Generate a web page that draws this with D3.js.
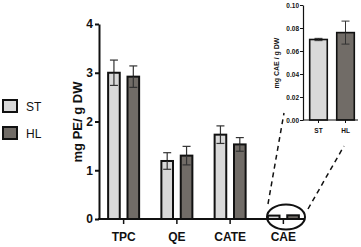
<!DOCTYPE html>
<html><head><meta charset="utf-8">
<script src="https://cdn.jsdelivr.net/npm/d3@7/dist/d3.min.js"></script>
<style>body{margin:0;background:#fff}svg{display:block}</style>
</head><body>
<svg id="c" width="361" height="247"></svg>
<script>
const categories = ["TPC","QE","CATE","CAE"];
const series = ["ST","HL"];
const stValues = [3.00, 1.19, 1.73, 0.070];
const stErrors = [0.26, 0.17, 0.18, 0.001];
const hlValues = [2.92, 1.30, 1.53, 0.076];
const hlErrors = [0.22, 0.19, 0.14, 0.010];
const mainTicks = [0,1,2,3,4];
const insetTicks = [0,0.02,0.04,0.06,0.08,0.10];
const colors = {ST:"#d9d9d9", HL:"#716c67"};

const svg = d3.select("#c");
const font = "'Liberation Sans', Arial, sans-serif";

// main chart
const x0 = d3.scaleBand().domain(categories).range([97, 310]).paddingInner(0).paddingOuter(0);
const x1 = d3.scaleBand().domain(series).range([-15.5, 15.5]).paddingInner(0.4).paddingOuter(0);
const y = d3.scaleLinear().domain([0,4]).range([219, 24]);

const data = categories.map((c,i)=>({c, vals:[
  {s:"ST", v:stValues[i], e:stErrors[i]},
  {s:"HL", v:hlValues[i], e:hlErrors[i]}]}));

const g = svg.append("g");
data.forEach(d=>{
  const cx = x0(d.c)+x0.bandwidth()/2;
  d.vals.forEach(b=>{
    const bx = cx + x1(b.s);
    const bw = x1.bandwidth();
    const mx = bx + bw/2;
    if (d.c !== "CAE") {
      g.append("line").attr("x1",mx).attr("x2",mx).attr("y1",y(b.v+b.e)).attr("y2",y(b.v)).attr("stroke","#333").attr("stroke-width",1.2);
      g.append("line").attr("x1",mx-4).attr("x2",mx+4).attr("y1",y(b.v+b.e)).attr("y2",y(b.v+b.e)).attr("stroke","#333").attr("stroke-width",1.2);
    }
    g.append("rect").attr("x",bx).attr("width",bw).attr("y",y(b.v)).attr("height",Math.max(y(0)-y(b.v),1.5))
      .attr("fill",colors[b.s]).attr("stroke","#111").attr("stroke-width",2);
    if (d.c !== "CAE") {
      g.append("line").attr("x1",mx).attr("x2",mx).attr("y1",y(b.v)).attr("y2",y(b.v-b.e)).attr("stroke","#333").attr("stroke-width",1.2);
      g.append("line").attr("x1",mx-4).attr("x2",mx+4).attr("y1",y(b.v-b.e)).attr("y2",y(b.v-b.e)).attr("stroke","#333").attr("stroke-width",1.2);
    }
  });
});

// axes
const yAxis = svg.append("g").attr("transform","translate(99,0)")
  .call(d3.axisLeft(y).tickValues(mainTicks).tickFormat(d3.format("d")).tickSize(4).tickSizeOuter(0));
yAxis.select(".domain").attr("stroke","#111").attr("stroke-width",2);
yAxis.selectAll(".tick line").attr("stroke","#111").attr("stroke-width",2);
yAxis.selectAll(".tick text").attr("font-family",font).attr("font-weight","bold").attr("font-size",12).attr("fill","#111").attr("x",-6);

const xAxis = svg.append("g").attr("transform","translate(0,219)")
  .call(d3.axisBottom(x0).tickSize(5).tickSizeOuter(0));
xAxis.select(".domain").attr("d","M98,0H305").attr("stroke","#111").attr("stroke-width",2);
xAxis.selectAll(".tick line").attr("stroke","#111").attr("stroke-width",1.5);
xAxis.selectAll("text").attr("font-family",font).attr("font-weight","bold").attr("font-size",12).attr("fill","#111").attr("y",13);

// y label
svg.append("text").attr("transform","translate(82,122) rotate(-90)").attr("text-anchor","middle")
  .attr("font-family",font).attr("font-weight","bold").attr("font-size",13).attr("fill","#111").text("mg PE/ g DW");

// legend
series.forEach((s,i)=>{
  const ly = 100 + i*27;
  svg.append("rect").attr("x",3).attr("y",ly).attr("width",14).attr("height",12).attr("fill",colors[s]).attr("stroke","#111").attr("stroke-width",2);
  svg.append("text").attr("x",26).attr("y",ly+11).attr("font-family",font).attr("font-size",12).attr("fill","#111").text(s);
});

// ellipse + dashed connectors
svg.append("ellipse").attr("cx",286).attr("cy",217).attr("rx",19).attr("ry",12.5).attr("fill","none").attr("stroke","#111").attr("stroke-width",2);
svg.append("line").attr("x1",268).attr("y1",204).attr("x2",284).attr("y2",113).attr("stroke","#111").attr("stroke-width",1.5).attr("stroke-dasharray","5,4");
svg.append("line").attr("x1",308).attr("y1",209).attr("x2",344).attr("y2",146).attr("stroke","#111").attr("stroke-width",1.5).attr("stroke-dasharray","5,4");

// inset
const iy = d3.scaleLinear().domain([0,0.10]).range([120,5]);
const ix = d3.scaleBand().domain(series).range([307, 357]).paddingInner(0.35).paddingOuter(0.1);
const ig = svg.append("g");
series.forEach((s,i)=>{
  const v = s==="ST"? stValues[3] : hlValues[3];
  const e = s==="ST"? stErrors[3] : hlErrors[3];
  const bx = ix(s), bw = ix.bandwidth(), mx = bx+bw/2;
  ig.append("line").attr("x1",mx).attr("x2",mx).attr("y1",iy(v+e)).attr("y2",iy(v)).attr("stroke","#333").attr("stroke-width",1);
  ig.append("line").attr("x1",mx-4).attr("x2",mx+4).attr("y1",iy(v+e)).attr("y2",iy(v+e)).attr("stroke","#333").attr("stroke-width",1);
  ig.append("rect").attr("x",bx).attr("width",bw).attr("y",iy(v)).attr("height",iy(0)-iy(v)).attr("fill",colors[s]).attr("stroke","#111").attr("stroke-width",1.6);
  ig.append("line").attr("x1",mx).attr("x2",mx).attr("y1",iy(v)).attr("y2",iy(v-e)).attr("stroke","#333").attr("stroke-width",1);
  ig.append("line").attr("x1",mx-4).attr("x2",mx+4).attr("y1",iy(v-e)).attr("y2",iy(v-e)).attr("stroke","#333").attr("stroke-width",1);
});
const iyA = svg.append("g").attr("transform","translate(303,0)")
  .call(d3.axisLeft(iy).tickValues(insetTicks).tickFormat(d3.format(".2f")).tickSize(3).tickSizeOuter(0));
iyA.select(".domain").attr("stroke","#111").attr("stroke-width",1.2);
iyA.selectAll(".tick line").attr("stroke","#111");
iyA.selectAll("text").attr("font-family",font).attr("font-weight","bold").attr("font-size",6.5).attr("fill","#111").attr("x",-4);
const ixA = svg.append("g").attr("transform","translate(0,120)")
  .call(d3.axisBottom(ix).tickSize(3).tickSizeOuter(0));
ixA.select(".domain").attr("d","M303,0H358").attr("stroke","#111").attr("stroke-width",1.2);
ixA.selectAll(".tick line").attr("stroke","#111");
ixA.selectAll("text").attr("font-family",font).attr("font-weight","bold").attr("font-size",6.5).attr("fill","#111").attr("y",8);
svg.append("text").attr("transform","translate(279,63) rotate(-90)").attr("text-anchor","middle")
  .attr("font-family",font).attr("font-weight","bold").attr("font-size",7).attr("fill","#111").text("mg CAE / g DW");
</script>
</body></html>
